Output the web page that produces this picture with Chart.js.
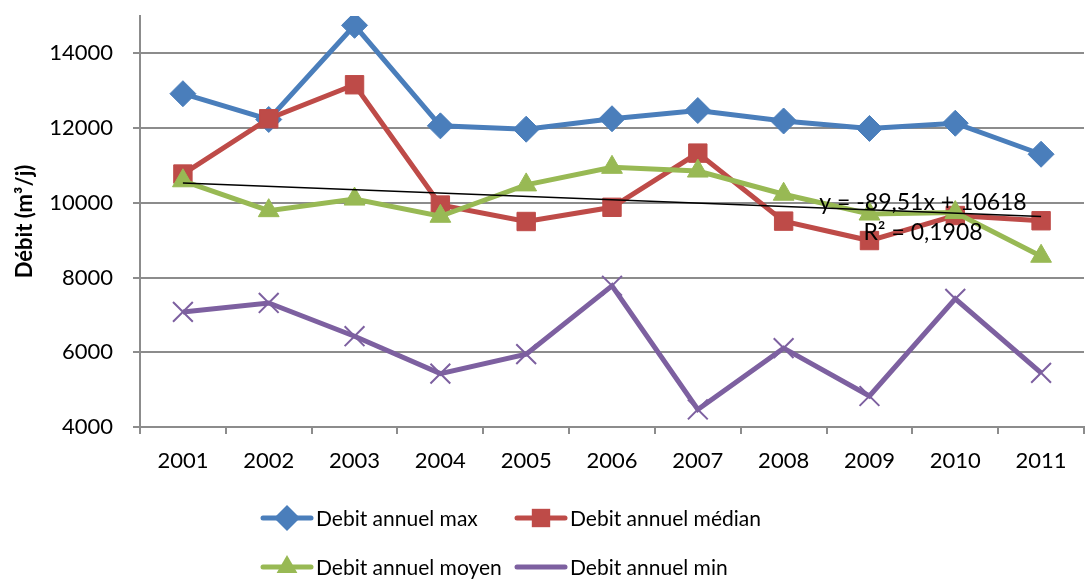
<!DOCTYPE html>
<html>
<head>
<meta charset="utf-8">
<script src="https://cdn.jsdelivr.net/npm/chart.js@4.4.1/dist/chart.umd.min.js"></script>
<style>
  html, body { margin: 0; padding: 0; background: #fff; overflow: hidden; }
  #wrap { width: 1100px; height: 579px; }
</style>
</head>
<body>
<div id="wrap"><canvas id="graficoDebit" width="1100" height="579"></canvas></div>
<script>
const annees = ['2001', '2002', '2003', '2004', '2005', '2006', '2007', '2008', '2009', '2010', '2011'];
const debitMax = [12920, 12230, 14750, 12060, 11970, 12250, 12470, 12190, 11990, 12130, 11300];
const debitMedian = [10770, 12250, 13160, 9940, 9500, 9880, 11330, 9510, 8990, 9660, 9520];
const debitMoyen = [10590, 9790, 10100, 9640, 10480, 10950, 10850, 10230, 9700, 9740, 8570];
const debitMin = [7080, 7320, 6430, 5430, 5950, 7780, 4470, 6110, 4830, 7430, 5450];
// tendance linéaire (moyen) : extrémités
const tendance = [10528, null, null, null, null, null, null, null, null, null, 9633];
const equation = ['y = -89,51x + 10618', 'R² = 0,1908'];
const yTicks = [4000, 6000, 8000, 10000, 12000, 14000];

const police = "Lato, 'Open Sans', sans-serif";
const gris = '#8c8c8c';

const legendeExcel = {
    id: 'legendeExcel',
    afterDraw(chart) {
        const ctx = chart.ctx;
        const pos = [[263, 518], [517, 518], [263, 567], [517, 567]];
        chart.data.datasets.slice(0, 4).forEach((ds, i) => {
            const [x, y] = pos[i];
            ctx.save();
            ctx.strokeStyle = ds.borderColor;
            ctx.lineWidth = 5;
            ctx.lineCap = 'round';
            ctx.beginPath();
            ctx.moveTo(x, y);
            ctx.lineTo(x + 48, y);
            ctx.stroke();
            ctx.fillStyle = ds.pointBackgroundColor;
            ctx.strokeStyle = ds.pointBorderColor;
            ctx.lineWidth = ds.pointBorderWidth;
            Chart.helpers.drawPoint(ctx, {pointStyle: ds.pointStyle, radius: ds.pointRadius, rotation: 0}, x + 24, y);
            ctx.fillStyle = '#000';
            ctx.font = '21px ' + police;
            ctx.textBaseline = 'middle';
            ctx.textAlign = 'left';
            ctx.fillText(ds.label, x + 53, y + 1);
            ctx.restore();
        });
    }
};

const texteTendance = {
    id: 'texteTendance',
    afterDatasetsDraw(chart) {
        const ctx = chart.ctx;
        ctx.save();
        ctx.fillStyle = '#000';
        ctx.font = '23px ' + police;
        ctx.textAlign = 'center';
        ctx.textBaseline = 'middle';
        ctx.fillText(equation[0], 923, 203);
        ctx.fillText(equation[1], 923, 233);
        ctx.restore();
    }
};

const ctx = document.getElementById('graficoDebit').getContext('2d');
new Chart(ctx, {
    type: 'line',
    data: {
        labels: annees,
        datasets: [
            {
                label: 'Debit annuel max',
                data: debitMax,
                borderColor: '#4a7ebb',
                pointBackgroundColor: '#4a7ebb',
                pointBorderColor: '#4a7ebb',
                pointBorderWidth: 1,
                pointStyle: 'rectRot',
                pointRadius: 13,
                borderWidth: 5,
                order: 5
            },
            {
                label: 'Debit annuel médian',
                data: debitMedian,
                borderColor: '#be4b48',
                pointBackgroundColor: '#be4b48',
                pointBorderColor: '#be4b48',
                pointBorderWidth: 1,
                pointStyle: 'rect',
                pointRadius: 13,
                borderWidth: 5,
                order: 4
            },
            {
                label: 'Debit annuel moyen',
                data: debitMoyen,
                borderColor: '#98b954',
                pointBackgroundColor: '#98b954',
                pointBorderColor: '#98b954',
                pointBorderWidth: 1,
                pointStyle: 'triangle',
                pointRadius: 12,
                borderWidth: 5,
                order: 3
            },
            {
                label: 'Debit annuel min',
                data: debitMin,
                borderColor: '#7d60a0',
                pointBackgroundColor: '#7d60a0',
                pointBorderColor: '#7d60a0',
                pointBorderWidth: 2,
                pointStyle: 'crossRot',
                pointRadius: 14,
                borderWidth: 5,
                order: 2
            },
            {
                label: 'Linéaire (Debit annuel moyen)',
                data: tendance,
                borderColor: '#000',
                borderWidth: 1.5,
                pointRadius: 0,
                spanGaps: true,
                order: 1
            }
        ]
    },
    options: {
        responsive: false,
        animation: false,
        layout: { padding: { top: 15, right: 3, left: 0, bottom: 0 } },
        plugins: {
            legend: { display: false },
            tooltip: { enabled: false }
        },
        scales: {
            x: {
                offset: true,
                grid: {
                    offset: true,
                    drawOnChartArea: false,
                    drawTicks: true,
                    tickLength: 7,
                    color: gris,
                    lineWidth: 2
                },
                border: { color: gris, width: 2 },
                ticks: {
                    color: '#000',
                    font: { family: police, size: 22 },
                    padding: 14,
                    maxRotation: 0
                },
                afterFit(scale) {
                    scale.height = 152;
                    scale.paddingLeft = 0;
                    scale.paddingRight = 0;
                }
            },
            y: {
                min: 4000,
                max: 15000,
                grid: {
                    color: gris,
                    lineWidth: 2,
                    tickLength: 7
                },
                border: { color: gris, width: 2 },
                ticks: {
                    stepSize: 2000,
                    includeBounds: false,
                    color: '#000',
                    padding: 20,
                    font: { family: police, size: 22 },
                    callback: v => String(v)
                },
                afterBuildTicks(scale) {
                    scale.ticks = yTicks.map(v => ({ value: v }));
                },
                title: {
                    display: true,
                    text: 'Débit (m³/j)',
                    color: '#000',
                    font: { family: police, size: 22, weight: 'bold' },
                    padding: { top: 12, bottom: 0 }
                },
                afterFit(scale) {
                    scale.width = 140;
                    scale.paddingTop = 0;
                    scale.paddingBottom = 0;
                }
            }
        }
    },
    plugins: [texteTendance, legendeExcel]
});
</script>
</body>
</html>
